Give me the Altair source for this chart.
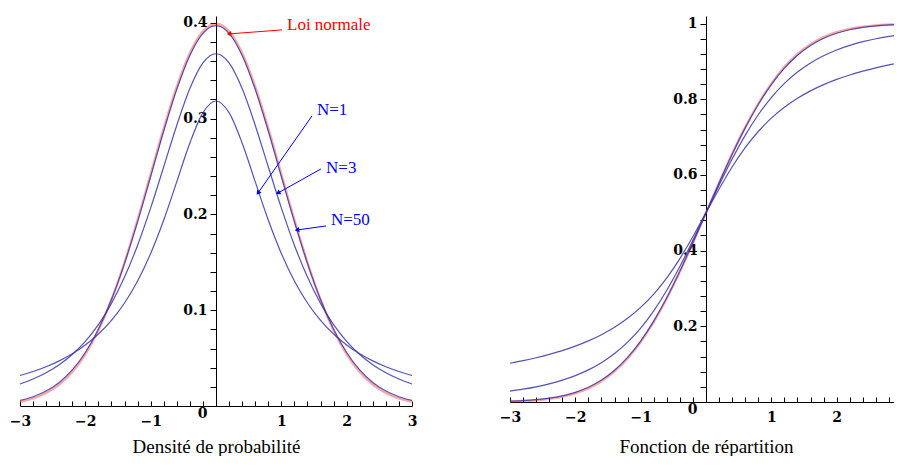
import math
import altair as alt
import pandas as pd

# ---------------- data ----------------
x_grid = [-3.0, -2.8, -2.6, -2.4, -2.2, -2.0, -1.8, -1.6, -1.4, -1.2, -1.0, -0.8, -0.6, -0.4, -0.2,
          0.0, 0.2, 0.4, 0.6, 0.8, 1.0, 1.2, 1.4, 1.6, 1.8, 2.0, 2.2, 2.4, 2.6, 2.8, 3.0]

# densities
pdf_normal = [0.0044, 0.0079, 0.0136, 0.0224, 0.0355, 0.0540, 0.0790, 0.1109, 0.1497, 0.1942, 0.2420,
              0.2897, 0.3332, 0.3683, 0.3910, 0.3989, 0.3910, 0.3683, 0.3332, 0.2897, 0.2420, 0.1942,
              0.1497, 0.1109, 0.0790, 0.0540, 0.0355, 0.0224, 0.0136, 0.0079, 0.0044]
pdf_n1 = [0.0318, 0.0360, 0.0410, 0.0471, 0.0545, 0.0637, 0.0751, 0.0894, 0.1075, 0.1305, 0.1592,
          0.1941, 0.2341, 0.2744, 0.3061, 0.3183, 0.3061, 0.2744, 0.2341, 0.1941, 0.1592, 0.1305,
          0.1075, 0.0894, 0.0751, 0.0637, 0.0545, 0.0471, 0.0410, 0.0360, 0.0318]
pdf_n3 = [0.0230, 0.0282, 0.0347, 0.0431, 0.0538, 0.0675, 0.0850, 0.1070, 0.1345, 0.1678, 0.2067,
          0.2497, 0.2930, 0.3313, 0.3580, 0.3676, 0.3580, 0.3313, 0.2930, 0.2497, 0.2067, 0.1678,
          0.1345, 0.1070, 0.0850, 0.0675, 0.0538, 0.0431, 0.0347, 0.0282, 0.0230]
pdf_n50 = [0.0058, 0.0097, 0.0156, 0.0246, 0.0376, 0.0558, 0.0801, 0.1111, 0.1489, 0.1924, 0.2395,
           0.2870, 0.3305, 0.3658, 0.3889, 0.3969, 0.3889, 0.3658, 0.3305, 0.2870, 0.2395, 0.1924,
           0.1489, 0.1111, 0.0801, 0.0558, 0.0376, 0.0246, 0.0156, 0.0097, 0.0058]

# distribution functions
cdf_normal = [0.0013, 0.0026, 0.0047, 0.0082, 0.0139, 0.0228, 0.0359, 0.0548, 0.0808, 0.1151, 0.1587,
              0.2119, 0.2743, 0.3446, 0.4207, 0.5000, 0.5793, 0.6554, 0.7257, 0.7881, 0.8413, 0.8849,
              0.9192, 0.9452, 0.9641, 0.9772, 0.9861, 0.9918, 0.9953, 0.9974, 0.9987]
cdf_n1 = [0.1024, 0.1092, 0.1169, 0.1257, 0.1358, 0.1476, 0.1614, 0.1778, 0.1974, 0.2211, 0.2500,
          0.2852, 0.3280, 0.3789, 0.4372, 0.5000, 0.5628, 0.6211, 0.6720, 0.7148, 0.7500, 0.7789,
          0.8026, 0.8222, 0.8386, 0.8524, 0.8642, 0.8743, 0.8831, 0.8908, 0.8976]
cdf_n3 = [0.0288, 0.0339, 0.0401, 0.0479, 0.0577, 0.0697, 0.0849, 0.1039, 0.1280, 0.1582, 0.1955,
          0.2410, 0.2954, 0.3580, 0.4271, 0.5000, 0.5729, 0.6420, 0.7046, 0.7590, 0.8045, 0.8418,
          0.8720, 0.8961, 0.9151, 0.9303, 0.9423, 0.9521, 0.9599, 0.9661, 0.9712]
cdf_n50 = [0.0021, 0.0036, 0.0061, 0.0101, 0.0163, 0.0255, 0.0390, 0.0580, 0.0839, 0.1180, 0.1611,
           0.2138, 0.2756, 0.3455, 0.4211, 0.5000, 0.5789, 0.6545, 0.7244, 0.7862, 0.8389, 0.8820,
           0.9161, 0.9420, 0.9610, 0.9745, 0.9837, 0.9899, 0.9939, 0.9964, 0.9979]

x_major = [-3, -2, -1, 1, 2, 3]
x_minor = x_grid
y_ticks_pdf = [0.0, 0.02, 0.04, 0.06, 0.08, 0.1, 0.12, 0.14, 0.16, 0.18, 0.2, 0.22, 0.24, 0.26, 0.28,
               0.3, 0.32, 0.34, 0.36, 0.38, 0.4]
y_ticks_cdf = [0.0, 0.04, 0.08, 0.12, 0.16, 0.2, 0.24, 0.28, 0.32, 0.36, 0.4, 0.44, 0.48, 0.52, 0.56,
               0.6, 0.64, 0.68, 0.72, 0.76, 0.8, 0.84, 0.88, 0.92, 0.96, 1.0]

titles = ["Densité de probabilité", "Fonction de répartition"]

# annotations (left panel, data coordinates)
ann_labels = ["Loi normale", "N=1", "N=3", "N=50"]
ann_colors = ["#ff0000", "#0000ff", "#0000ff", "#0000ff"]
ann_text_x = [1.087, 1.546, 1.684, 1.760]
ann_text_y = [0.398, 0.309, 0.248, 0.194]
arrow_x0 = [1.010, 1.469, 1.607, 1.684]
arrow_y0 = [0.3925, 0.3027, 0.2474, 0.1879]
arrow_x1 = [0.199, 0.643, 0.949, 1.240]
arrow_y1 = [0.3883, 0.2223, 0.2223, 0.1837]

# ---------------- layout ----------------
W = 392
H_L = 390
H_R = 386
YMAX_L = 0.407
YMAX_R = 1.02

TICK_FONT = "DejaVu Serif"
TEXT_FONT = "Liberation Serif"
BLUE = "#3535a8"


def make_df(normal, n1, n3, n50):
    rows = []
    for name, vals in [("normal", normal), ("N=1", n1), ("N=3", n3), ("N=50", n50)]:
        for xv, yv in zip(x_grid, vals):
            rows.append({"x": xv, "y": yv, "series": name})
    return pd.DataFrame(rows)


def panel(df, H, ymax, yticks, label_test, title, title_pad, extra_layers=()):
    xscale = alt.Scale(domain=[-3, 3], nice=False, zero=False)
    yscale = alt.Scale(domain=[0, ymax], nice=False, zero=False)

    x_axis = alt.Axis(
        orient="bottom", values=x_major, ticks=False, tickSize=0, grid=False, labelFlush=False,
        labelExpr="datum.value < 0 ? '\u2212' + abs(datum.value) : '' + datum.value",
        labelFont=TICK_FONT, labelFontWeight="bold", labelFontSize=14, labelColor="black",
        labelPadding=8, domainColor="black", domainWidth=1,
        title=title, titleFont=TEXT_FONT, titleFontSize=19, titleFontWeight="normal",
        titleColor="black", titlePadding=title_pad,
    )
    y_axis = alt.Axis(
        orient="left", offset=-W / 2, values=yticks, grid=False, title=None, labelFlush=False,
        labelExpr=label_test,
        labelFont=TICK_FONT, labelFontWeight="bold", labelFontSize=14, labelColor="black",
        labelPadding=3, tickSize=6, tickColor="black", domainColor="black", domainWidth=1,
        labelBaseline={"condition": {"test": "datum.value == 0", "value": "top"}, "value": "middle"},
    )
    x_tick_axis = alt.Axis(
        orient="top", offset=-H, values=x_minor, labels=False, domain=False, grid=False,
        tickSize=5, tickColor="black", title=None,
    )

    base = alt.Chart(df)
    normal = base.transform_filter(alt.datum.series == "normal").mark_line(
        color="#ff0000", strokeWidth=2.4, opacity=0.35, interpolate="monotone"
    ).encode(
        x=alt.X("x:Q", scale=xscale, axis=x_axis),
        y=alt.Y("y:Q", scale=yscale, axis=y_axis),
    )
    blues = base.transform_filter(alt.datum.series != "normal").mark_line(
        color=BLUE, strokeWidth=1.2, opacity=0.85, interpolate="monotone"
    ).encode(
        x=alt.X("x:Q", scale=xscale, axis=None),
        y=alt.Y("y:Q", scale=yscale, axis=None),
        detail="series:N",
    )
    ticks = alt.Chart(pd.DataFrame({"t": x_minor})).mark_point(
        opacity=0, size=0, strokeWidth=0
    ).encode(
        x=alt.X("t:Q", scale=xscale, axis=x_tick_axis),
    )
    layers = [normal, blues, ticks] + [l(xscale, yscale) for l in extra_layers]
    return alt.layer(*layers).resolve_axis(x="independent", y="independent").properties(width=W, height=H)


def annotations(xscale, yscale):
    px_x = W / 6.0
    px_y = H_L / YMAX_L
    angles = []
    for a, b, c, d in zip(arrow_x0, arrow_y0, arrow_x1, arrow_y1):
        dxp = (c - a) * px_x
        dyp = -(d - b) * px_y
        angles.append(math.degrees(math.atan2(-dyp, -dxp)) % 360)
    tdf = pd.DataFrame({"x": ann_text_x, "y": ann_text_y, "label": ann_labels, "color": ann_colors})
    adf = pd.DataFrame({"x": arrow_x0, "y": arrow_y0, "x2": arrow_x1, "y2": arrow_y1,
                        "color": ann_colors, "angle": angles})
    text = alt.Chart(tdf).mark_text(align="left", baseline="middle", font=TEXT_FONT, fontSize=17).encode(
        x=alt.X("x:Q", scale=xscale, axis=None),
        y=alt.Y("y:Q", scale=yscale, axis=None),
        text="label:N",
        color=alt.Color("color:N", scale=None),
    )
    lines = alt.Chart(adf).mark_rule(strokeWidth=1).encode(
        x=alt.X("x:Q", scale=xscale, axis=None),
        y=alt.Y("y:Q", scale=yscale, axis=None),
        x2="x2:Q", y2="y2:Q",
        color=alt.Color("color:N", scale=None),
    )
    heads = alt.Chart(adf).mark_point(shape="triangle-left", filled=True, size=28, opacity=1).encode(
        x=alt.X("x2:Q", scale=xscale, axis=None),
        y=alt.Y("y2:Q", scale=yscale, axis=None),
        angle=alt.Angle("angle:Q", scale=None),
        color=alt.Color("color:N", scale=None),
    )
    return alt.layer(text, lines, heads)


left = panel(
    make_df(pdf_normal, pdf_n1, pdf_n3, pdf_n50), H_L, YMAX_L, y_ticks_pdf,
    "datum.value == 0 ? '0' : (round(datum.value * 100) % 10 == 0 ? format(datum.value, '.1~f') : '')",
    titles[0], 9, extra_layers=(annotations,),
)
right = panel(
    make_df(cdf_normal, cdf_n1, cdf_n3, cdf_n50), H_R, YMAX_R, y_ticks_cdf,
    "datum.value == 0 ? '0' : (round(datum.value * 100) % 20 == 0 ? format(datum.value, '.1~f') : '')",
    titles[1], 13,
)

chart = alt.hconcat(left, right, spacing=82).properties(
    padding={"left": 1, "top": 7, "right": -13, "bottom": 0},
    background="white",
).configure_view(stroke=None)

chart.save("out.html", embed_options={"renderer": "svg", "actions": False})
